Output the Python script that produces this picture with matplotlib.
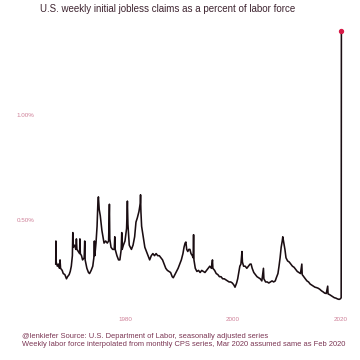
import matplotlib
matplotlib.use('Agg')
import matplotlib.pyplot as plt

plt.rcParams['font.family'] = ['Liberation Sans', 'DejaVu Sans']

# weekly claims / labor force (%) at its turning points
years = [
    1967.00, 1967.03, 1967.08, 1967.3, 1967.5, 1967.7, 1967.8, 1967.9,
    1968.2, 1968.4, 1968.7, 1969.0, 1969.2, 1969.5, 1969.7, 1969.9,
    1970.1, 1970.18, 1970.25, 1970.5, 1970.75, 1970.85, 1970.95,
    1971.2, 1971.45, 1971.5, 1971.58, 1971.8, 1972.0, 1972.3, 1972.4,
    1972.48, 1972.8, 1973.1, 1973.3, 1973.6, 1973.9, 1974.1, 1974.2,
    1974.28, 1974.5, 1974.7, 1974.85, 1974.95, 1975.1, 1975.3, 1975.6,
    1975.8, 1976.0, 1976.3, 1976.6, 1976.85, 1977.0, 1977.07, 1977.3,
    1977.6, 1977.9, 1978.0, 1978.08, 1978.4, 1978.7, 1978.95, 1979.2,
    1979.3, 1979.38, 1979.6, 1979.9, 1980.2, 1980.35, 1980.45, 1980.7,
    1980.9, 1981.1, 1981.4, 1981.7, 1981.95, 1982.2, 1982.5, 1982.75,
    1982.8, 1982.87, 1983.0, 1983.3, 1983.6, 1983.9, 1984.2, 1984.5,
    1984.8, 1985.1, 1985.4, 1985.7, 1986.0, 1986.3, 1986.6, 1986.9,
    1987.2, 1987.5, 1987.8, 1988.1, 1988.4, 1988.7, 1988.9, 1989.2,
    1989.5, 1989.8, 1990.1, 1990.4, 1990.7, 1990.9, 1991.1, 1991.25,
    1991.4, 1991.6, 1991.8, 1992.0, 1992.2, 1992.45, 1992.6, 1992.68,
    1992.75, 1993.0, 1993.3, 1993.6, 1993.9, 1994.2, 1994.5, 1994.8,
    1995.1, 1995.4, 1995.7, 1996.0, 1996.2, 1996.28, 1996.6, 1996.9,
    1997.2, 1997.5, 1997.8, 1998.1, 1998.4, 1998.7, 1999.0, 1999.3,
    1999.6, 1999.9, 2000.2, 2000.4, 2000.7, 2000.9, 2001.1, 2001.3,
    2001.5, 2001.7, 2001.78, 2002.0, 2002.3, 2002.6, 2002.9, 2003.2,
    2003.4, 2003.6, 2003.9, 2004.2, 2004.5, 2004.8, 2005.1, 2005.4,
    2005.7, 2005.78, 2006.1, 2006.4, 2006.7, 2007.0, 2007.3, 2007.6,
    2007.9, 2008.1, 2008.4, 2008.6, 2008.8, 2009.0, 2009.2, 2009.3,
    2009.5, 2009.7, 2009.9, 2010.2, 2010.5, 2010.8, 2011.1, 2011.4,
    2011.7, 2012.0, 2012.3, 2012.6, 2012.85, 2012.92, 2013.2, 2013.5,
    2013.8, 2014.1, 2014.4, 2014.7, 2015.0, 2015.3, 2015.6, 2015.9,
    2016.2, 2016.5, 2016.8, 2017.1, 2017.4, 2017.67, 2017.74, 2018.0,
    2018.3, 2018.6, 2018.9, 2019.2, 2019.5, 2019.8, 2020.05, 2020.18,
    2020.22,
]
pct = [
    0.29, 0.40, 0.30, 0.28, 0.29, 0.27, 0.31, 0.27,
    0.26, 0.245, 0.24, 0.22, 0.23, 0.24, 0.255, 0.28,
    0.33, 0.44, 0.37, 0.38, 0.36, 0.41, 0.36,
    0.35, 0.34, 0.41, 0.34, 0.33, 0.31, 0.32, 0.40,
    0.31, 0.27, 0.25, 0.245, 0.26, 0.28, 0.32, 0.40,
    0.33, 0.39, 0.47, 0.58, 0.61, 0.55, 0.52, 0.45,
    0.42, 0.39, 0.40, 0.39, 0.40, 0.575, 0.41, 0.37,
    0.36, 0.36, 0.42, 0.36, 0.33, 0.31, 0.31, 0.36,
    0.44, 0.36, 0.38, 0.40, 0.46, 0.59, 0.48, 0.38,
    0.37, 0.36, 0.38, 0.42, 0.49, 0.51, 0.54, 0.58,
    0.62, 0.54, 0.47, 0.42, 0.37, 0.35, 0.33, 0.31,
    0.33, 0.34, 0.33, 0.34, 0.33, 0.33, 0.32, 0.31,
    0.29, 0.27, 0.26, 0.255, 0.25, 0.23, 0.225, 0.24,
    0.255, 0.27, 0.29, 0.31, 0.34, 0.37, 0.39, 0.395,
    0.36, 0.35, 0.36, 0.36, 0.34, 0.33, 0.32, 0.43,
    0.31, 0.27, 0.255, 0.26, 0.25, 0.26, 0.255, 0.25,
    0.26, 0.27, 0.28, 0.27, 0.31, 0.27, 0.26, 0.245,
    0.24, 0.23, 0.23, 0.22, 0.22, 0.215, 0.21, 0.205,
    0.205, 0.20, 0.19, 0.18, 0.20, 0.22, 0.25, 0.28,
    0.29, 0.35, 0.30, 0.28, 0.28, 0.27, 0.28, 0.29,
    0.29, 0.27, 0.25, 0.24, 0.23, 0.225, 0.22, 0.21,
    0.27, 0.22, 0.205, 0.205, 0.20, 0.205, 0.21, 0.205,
    0.21, 0.225, 0.245, 0.28, 0.32, 0.37, 0.40, 0.42,
    0.39, 0.36, 0.32, 0.305, 0.30, 0.29, 0.28, 0.275,
    0.265, 0.255, 0.25, 0.245, 0.29, 0.24, 0.23, 0.22,
    0.21, 0.205, 0.195, 0.19, 0.185, 0.18, 0.178, 0.175,
    0.17, 0.163, 0.158, 0.152, 0.15, 0.185, 0.148, 0.145,
    0.14, 0.135, 0.13, 0.128, 0.124, 0.122, 0.125, 0.13,
    1.40,
]

x_ticks = [1980, 2000, 2020]
y_ticks = [1.0, 0.5]
y_labels = ['1.00%', '0.50%']

fig = plt.figure(figsize=(3.6, 3.6), dpi=100)
ax = fig.add_axes([0.111, 0.15, 0.861, 0.767])

ax.plot(years, pct, color='#1a0d12', lw=1.15)
ax.scatter([years[-1]], [pct[-1]], color='#d81b48', s=8, zorder=3, clip_on=False)

ax.set_xlim(1964.06, 2021.81)
ax.set_ylim(0.0905, 1.405)
ax.set_xticks(x_ticks)
ax.set_xticklabels([str(t) for t in x_ticks])
ax.set_yticks(y_ticks)
ax.set_yticklabels(y_labels)
ax.tick_params(length=0, labelsize=4.5, labelcolor='#cf8098')
ax.tick_params(axis='x', pad=8)
ax.tick_params(axis='y', pad=4)
for s in ax.spines.values():
    s.set_visible(False)

fig.text(0.111, 0.975, 'U.S. weekly initial jobless claims as a percent of labor force',
         fontsize=7.0, color='#3e2430', va='center', ha='left')
fig.text(0.061, 0.064, '@lenkiefer Source: U.S. Department of Labor, seasonally adjusted series',
         fontsize=5.45, color='#7a3452', va='center', ha='left')
fig.text(0.061, 0.043, 'Weekly labor force interpolated from monthly CPS series, '
         'Mar 2020 assumed same as Feb 2020',
         fontsize=5.45, color='#7a3452', va='center', ha='left')

fig.savefig('out.png', dpi=100)
